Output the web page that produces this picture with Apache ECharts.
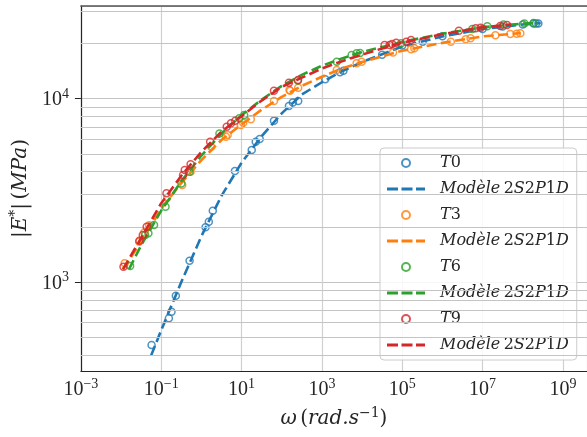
<!DOCTYPE html>
<html><head><meta charset="utf-8">
<script src="https://cdn.jsdelivr.net/npm/echarts@6/dist/echarts.min.js"></script>
<style>html,body{margin:0;padding:0;background:#fff}#c{width:587px;height:437px}</style>
</head><body><div id="c"></div>
<script>
// ---- data (omega in rad/s, |E*| in MPa) ----
const t0Omega = [0.0575,0.155,0.18,0.231,0.508,1.27,1.53,1.92,6.84,17.9,22.5,28.3,64.1,151,189,257,1213,2818,3436,31600,100000,323600,1000000,10000000,31600000,100000000,186000000,214000000,245000000];
const t0E     = [453,634,689,841,1306,1988,2133,2449,4034,5248,5820,6030,7590,9120,9550,9710,12760,13930,14220,17400,19500,20470,21900,24000,24800,25400,25700,25750,25770];
const t0ModelOmega = [0.0562,0.1,0.316,1,3.16,10,31.6,100,316,1000,3162,10000,100000,1e6,1e7,1e8,2.8e8];
const t0ModelE     = [398,546,1000,1778,2950,4480,6240,8320,10540,12300,14130,15850,19280,21880,23990,25400,25880];

const t3Omega = [0.0123,0.0282,0.038,0.05,0.141,0.333,0.538,1.75,4.09,4.51,9.62,11.0,17.0,64.1,156,162,257,2344,7310,9770,58900,166000,200000,1620000,3800000,5010000,20900000,49000000,70800000,87100000];
const t3E     = [1265,1660,1860,2040,2880,3380,4000,5470,6210,6340,7190,7390,7720,9710,11150,11070,11480,14350,15600,15920,17900,18620,18840,20470,21130,21380,22230,22540,22650,22750];
const t3ModelOmega = [0.0112,0.0316,0.1,0.316,1,3.16,10,31.6,100,316,1000,3162,10000,100000,1e6,1e7,8.9e7];
const t3ModelE     = [1175,1660,2512,3467,4624,5957,7244,8710,10230,11750,13180,14620,15850,18280,20180,21880,22800];

const t6Omega = [0.0168,0.0398,0.0479,0.0661,0.128,0.317,0.508,2.81,8.77,11.6,251,2344,5495,7310,8900,94400,5570000,13100000,33100000,110000000,186000000];
const t6E     = [1222,1803,1845,2047,2576,3451,4000,6470,7820,8150,12590,15920,17300,17700,17780,20050,23990,24830,25400,25770,25880];
const t6ModelOmega = [0.0158,0.0316,0.1,0.316,1,3.16,10,31.6,100,316,1000,3162,10000,100000,1e6,1e7,1e8,2e8];
const t6ModelE     = [1175,1585,2455,3548,4898,6457,8128,9886,11750,13490,15140,16600,17990,20420,22650,24550,25700,25880];

const t9Omega = [0.0115,0.0286,0.0347,0.0434,0.135,0.349,0.385,0.538,1.65,4.27,5.45,6.98,64.1,151,255,36300,48500,56200,70800,126000,166000,2570000,6760000,8900000,27500000,40700000];
const t9E     = [1211,1679,1803,2003,3048,3837,4083,4385,5823,7030,7350,7590,11060,12220,12650,19630,19630,19900,20200,20470,20890,23500,24210,24430,24950,25230];
const t9ModelOmega = [0.0112,0.0316,0.1,0.316,1,3.16,10,31.6,100,316,1000,3162,10000,31600,100000,1e6,1e7,5e7];
const t9ModelE     = [1175,1738,2692,3802,5130,6610,8040,9770,11610,13030,14620,16030,17400,18800,20200,22500,24550,25400];

const seriesNames = ['T0','T3','T6','T9'];
const modelLabel = 'Modèle 2S2P1D';
const minorGridE = [400,500,600,700,800,900,2000,3000,4000,5000,6000,7000,8000,9000,20000,30000];

// ---- styling ----
const colors = ['#1f77b4','#ff7f0e','#2ca02c','#d62728'];
const groups = [
  [t0Omega,t0E,t0ModelOmega,t0ModelE],
  [t3Omega,t3E,t3ModelOmega,t3ModelE],
  [t6Omega,t6E,t6ModelOmega,t6ModelE],
  [t9Omega,t9E,t9ModelOmega,t9ModelE]
];
const pairs = (xs, ys) => xs.map((x,i)=>[x, ys[i]]);
const dashIcon = 'path://M0,0h11v3h-11z M14.5,0h11v3h-11z M29,0h9v3h-9z';
const series = [];
const legendData = [];
groups.forEach((g,k)=>{
  const c = colors[k];
  const sName = seriesNames[k];
  const mName = modelLabel + ' (' + sName + ')';
  legendData.push({name:sName}, {name:mName, icon:dashIcon, itemStyle:{color:c, borderWidth:0}});
  series.push({type:'scatter', name:sName, data:pairs(g[0],g[1]), symbol:'circle', symbolSize:7,
    itemStyle:{color:'rgba(255,255,255,0)', borderColor:c, borderWidth:1.5}, z:2+k*2});
  series.push({type:'line', name:mName, data:pairs(g[2],g[3]), symbol:'none', showSymbol:false,
    lineStyle:{color:c, width:2.6, type:[10,4.5]}, itemStyle:{color:c}, z:3+k*2});
});
series.unshift({type:'line', name:'grid', data:[], z:1, silent:true,
  markLine:{silent:true, symbol:'none', label:{show:false}, animation:false,
    lineStyle:{color:'#c4c4c4', type:'solid', width:1},
    data: minorGridE.map(v=>({yAxis:v}))}});

const powLabel = v => {
  const l = Math.log10(v), e = Math.round(l);
  if (Math.abs(l-e) > 1e-6) return '';
  return '{b|10}{s|' + (e<0 ? '\u2212'+(-e) : e) + '}';
};
const tickRich = {
  b:{fontFamily:'Liberation Serif', fontSize:20, color:'#262626', verticalAlign:'bottom'},
  s:{fontFamily:'Liberation Serif', fontSize:14, color:'#262626', verticalAlign:'bottom', padding:[0,0,9,0]}
};
const titleRich = {
  i:{fontFamily:'DejaVu Serif', fontStyle:'italic', fontSize:20, color:'#262626', verticalAlign:'bottom'},
  r:{fontFamily:'DejaVu Serif', fontSize:20, color:'#262626', verticalAlign:'bottom'},
  s:{fontFamily:'DejaVu Serif', fontSize:14, color:'#262626', verticalAlign:'bottom', padding:[0,0,9,0]}
};

const chart = echarts.init(document.getElementById('c'), null, {renderer:'canvas'});
chart.setOption({
  animation:false,
  backgroundColor:'#fff',
  grid:{left:77, right:0, top:6, bottom:66},
  xAxis:[{
    type:'log', logBase:10, min:1e-3, max:3.98e9, interval:2,
    axisLine:{show:true, lineStyle:{color:'#262626', width:1.2}},
    axisTick:{show:false},
    axisLabel:{formatter:powLabel, rich:tickRich, margin:6, showMaxLabel:false},
    splitLine:{show:true, lineStyle:{color:'#d0d0d0', width:1.2}},
    name:'{i|ω} {r|(}{i|rad.s}{s|\u22121}{r|)}', nameLocation:'middle', nameGap:35,
    nameTextStyle:{rich:titleRich}
  },{
    type:'log', logBase:10, min:1e-3, max:3.98e9, position:'top',
    axisLine:{show:true, lineStyle:{color:'#555', width:1.5}},
    axisTick:{show:false}, axisLabel:{show:false}, splitLine:{show:false}
  }],
  yAxis:[{
    type:'log', logBase:10, min:327, max:32060,
    axisLine:{show:true, lineStyle:{color:'#262626', width:1.2}},
    axisTick:{show:true, length:6, lineStyle:{color:'#262626'}},
    axisLabel:{formatter:powLabel, rich:tickRich, margin:12, showMinLabel:false, showMaxLabel:false},
    splitLine:{show:true, lineStyle:{color:'#c4c4c4', width:1}},
    name:'{i||E}{s|*}{i||} {r|(}{i|MPa}{r|)}', nameLocation:'middle', nameGap:44,
    nameTextStyle:{rich:titleRich}
  }],
  legend:{
    orient:'vertical', left:380, top:148, data:legendData,
    itemWidth:38, itemHeight:8, itemGap:8,
    padding:[6,8,6,7],
    backgroundColor:'rgba(255,255,255,0.85)', borderColor:'#cccccc', borderWidth:1, borderRadius:4,
    formatter: n => n.startsWith('Mod') ? '{i|Modèle} {r|2}{i|S}{r|2}{i|P}{r|1}{i|D}' : '{i|T}{r|' + n.slice(1) + '}',
    textStyle:{padding:[0,0,0,10], lineHeight:18, rich:{
      i:{fontFamily:'DejaVu Serif', fontStyle:'italic', fontSize:16, lineHeight:18, color:'#262626'},
      r:{fontFamily:'DejaVu Serif', fontSize:16, lineHeight:18, color:'#262626'}
    }}
  },
  series: series
});
</script>
</body></html>
